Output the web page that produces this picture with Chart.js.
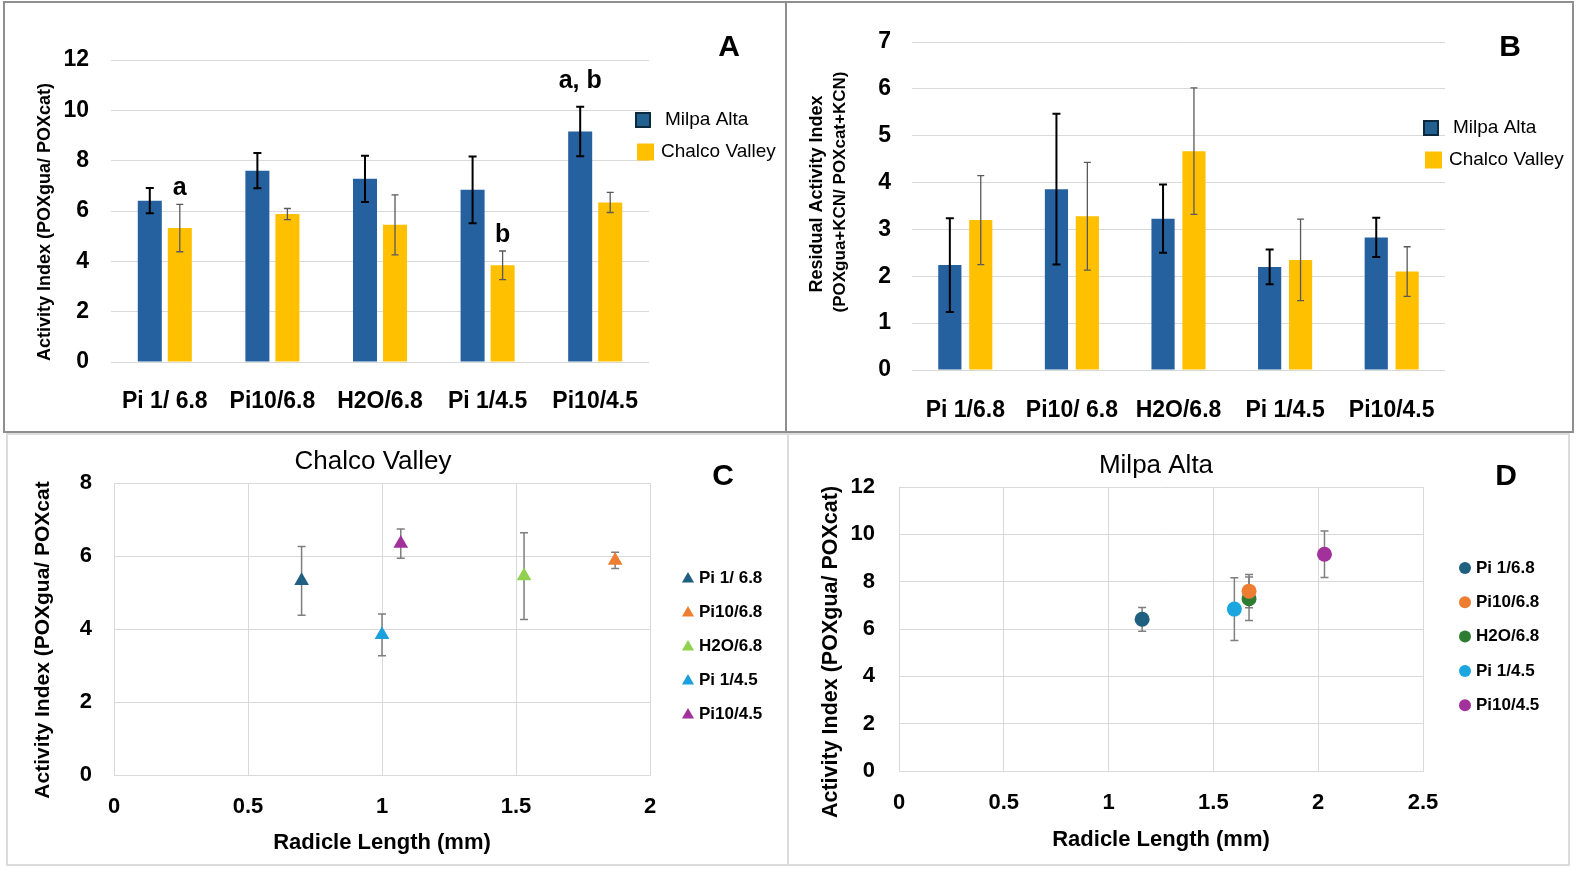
<!DOCTYPE html>
<html>
<head>
<meta charset="utf-8">
<title>Activity index panels</title>
<script src="https://cdn.jsdelivr.net/npm/chart.js@4.4.1/dist/chart.umd.min.js"></script>
<style>
  body { margin: 0; background: #fff; width: 1579px; height: 869px; position: relative; overflow: hidden; }
  .frame { position: absolute; box-sizing: border-box; }
  canvas { position: absolute; }
</style>
</head>
<body>
<div class="frame" style="left:3px;top:1px;width:1571px;height:432px;border:2px solid #8f8f8f;"></div>
<div class="frame" style="left:785px;top:1px;width:2px;height:432px;background:#8f8f8f;"></div>
<div class="frame" style="left:6px;top:433px;width:783px;height:433px;border:2px solid #dcdcdc;"></div>
<div class="frame" style="left:787px;top:433px;width:783px;height:433px;border:2px solid #dcdcdc;"></div>

<canvas id="chartA" width="780" height="429" style="left:5px;top:3px"></canvas>
<canvas id="chartB" width="782" height="429" style="left:788px;top:3px"></canvas>
<canvas id="chartC" width="780" height="428" style="left:6px;top:434px"></canvas>
<canvas id="chartD" width="776" height="428" style="left:789px;top:434px"></canvas>

<script>
// categories and series
const categoriesA = ['Pi 1/ 6.8', 'Pi10/6.8', 'H2O/6.8', 'Pi 1/4.5', 'Pi10/4.5'];
const categoriesB = ['Pi 1/6.8', 'Pi10/ 6.8', 'H2O/6.8', 'Pi 1/4.5', 'Pi10/4.5'];
const seriesNames = ['Milpa Alta', 'Chalco Valley'];

// panel A: activity index (mean and error)
const milpaActivity = [6.41, 7.60, 7.28, 6.84, 9.16];
const milpaActivityErr = [0.50, 0.70, 0.92, 1.33, 0.98];
const chalcoActivity = [5.32, 5.88, 5.45, 3.84, 6.34];
const chalcoActivityErr = [0.94, 0.22, 1.19, 0.57, 0.40];
const lettersMilpa = ['', '', '', '', 'a, b'];
const lettersChalco = ['a', '', '', 'b', ''];

// panel B: residual activity index
const milpaResidual = [2.24, 3.86, 3.23, 2.20, 2.83];
const milpaResidualErr = [1.00, 1.61, 0.73, 0.37, 0.42];
const chalcoResidual = [3.20, 3.28, 4.67, 2.35, 2.10];
const chalcoResidualErr = [0.95, 1.15, 1.35, 0.87, 0.53];

// panels C and D: radicle length vs activity
const treatmentsC = ['Pi 1/ 6.8', 'Pi10/6.8', 'H2O/6.8', 'Pi 1/4.5', 'Pi10/4.5'];
const treatmentsD = ['Pi 1/6.8', 'Pi10/6.8', 'H2O/6.8', 'Pi 1/4.5', 'Pi10/4.5'];
const chalcoLength = [0.70, 1.87, 1.53, 1.00, 1.07];
const milpaLength = [1.16, 1.67, 1.67, 1.60, 2.03];

// tick labels
const ticksA = [0, 2, 4, 6, 8, 10, 12];
const ticksB = [0, 1, 2, 3, 4, 5, 6, 7];
const ticksCy = [0, 2, 4, 6, 8];
const ticksCx = [0, 0.5, 1, 1.5, 2];
const ticksDy = [0, 2, 4, 6, 8, 10, 12];
const ticksDx = [0, 0.5, 1, 1.5, 2, 2.5];

const BLUE = '#25609f';
const YELLOW = '#ffc000';
const colorsC = ['#1f5f82', '#ed7d31', '#92d050', '#1aa0dc', '#a3319b'];
const colorsD = ['#1f5f7f', '#ed7d31', '#2e7d32', '#1ba6e0', '#a3319b'];

const FAMILY = "'Liberation Sans', Arial, sans-serif";
Chart.defaults.font.family = FAMILY;
Chart.defaults.color = '#000';

// error bars (and the significance letters) drawn from the library scales
function drawErrors(chart, opts) {
    const ctx = chart.ctx;
    const yScale = chart.scales.y;
    ctx.save();
    opts.sets.forEach(s => {
        const meta = chart.getDatasetMeta(s.dataset);
        const values = chart.data.datasets[s.dataset].data;
        meta.data.forEach((el, i) => {
            const v = typeof values[i] === 'object' ? values[i].y : values[i];
            const e = s.err[i];
            const top = yScale.getPixelForValue(v + e);
            const bot = yScale.getPixelForValue(v - e);
            ctx.strokeStyle = s.color;
            ctx.lineWidth = s.width;
            ctx.beginPath();
            ctx.moveTo(el.x, top); ctx.lineTo(el.x, bot);
            ctx.moveTo(el.x - s.cap, top); ctx.lineTo(el.x + s.cap, top);
            ctx.moveTo(el.x - s.cap, bot); ctx.lineTo(el.x + s.cap, bot);
            ctx.stroke();
            if (s.letters && s.letters[i]) {
                ctx.fillStyle = '#000';
                ctx.font = 'bold 25px ' + FAMILY;
                ctx.textAlign = 'center';
                ctx.textBaseline = 'alphabetic';
                ctx.fillText(s.letters[i], el.x, top - s.letterGap);
            }
        });
    });
    ctx.restore();
}

const errorBars = {
    id: 'errorBars',
    beforeDatasetsDraw(chart, args, opts) { if (opts.layer === 'before') drawErrors(chart, opts); },
    afterDatasetsDraw(chart, args, opts) { if (opts.layer !== 'before') drawErrors(chart, opts); }
};

// panel letters, titles, axis titles and legends
const decor = {
    id: 'decor',
    afterDraw(chart, args, opts) {
        const ctx = chart.ctx;
        ctx.save();
        (opts.texts || []).forEach(t => {
            ctx.save();
            ctx.font = t.font;
            ctx.fillStyle = '#000';
            ctx.textAlign = 'center';
            ctx.textBaseline = 'middle';
            ctx.translate(t.x, t.y);
            if (t.rot) ctx.rotate(t.rot * Math.PI / 180);
            ctx.fillText(t.text, 0, 0);
            ctx.restore();
        });
        const lg = opts.legend;
        if (lg) {
            chart.data.datasets.forEach((ds, i) => {
                const y = lg.y + i * lg.gap;
                if (lg.swatches) {
                    const sw = lg.swatches[i];
                    ctx.fillStyle = sw.fill;
                    ctx.fillRect(lg.x + sw.dx, y - sw.size / 2, sw.size, sw.size);
                    if (sw.stroke) {
                        ctx.strokeStyle = sw.stroke;
                        ctx.lineWidth = 2;
                        ctx.strokeRect(lg.x + sw.dx, y - sw.size / 2, sw.size, sw.size);
                    }
                } else {
                    ctx.fillStyle = ds.backgroundColor;
                    Chart.helpers.drawPoint(ctx, { pointStyle: ds.pointStyle, radius: lg.radius, rotation: 0, borderWidth: 0 }, lg.x, y + (lg.markerDy || 0));
                }
                ctx.fillStyle = '#000';
                ctx.font = lg.font;
                ctx.textAlign = 'left';
                ctx.textBaseline = 'middle';
                const dx = Array.isArray(lg.textDx) ? lg.textDx[i] : lg.textDx;
                ctx.fillText(ds.label, lg.x + dx, y);
            });
        }
        ctx.restore();
    }
};

function tickList(list) {
    return scale => { scale.ticks = list.map(v => ({ value: v })); };
}

function barChart(id, labels, milpa, chalco, milpaErr, chalcoErr, ticks, yMax, geom, extra) {
    return new Chart(document.getElementById(id), {
        type: 'bar',
        data: {
            labels: labels,
            datasets: [
                { label: seriesNames[0], data: milpa, backgroundColor: BLUE, categoryPercentage: geom.cp, barPercentage: geom.bp },
                { label: seriesNames[1], data: chalco, backgroundColor: YELLOW, categoryPercentage: geom.cp, barPercentage: geom.bp }
            ]
        },
        options: {
            responsive: false,
            animation: false,
            layout: { padding: { left: 0, top: geom.top, right: geom.right, bottom: 0 } },
            plugins: {
                legend: { display: false },
                tooltip: { enabled: false },
                errorBars: {
                    layer: 'after',
                    sets: [
                        { dataset: 0, err: milpaErr, color: '#000', width: 2, cap: 4, letters: extra.lettersMilpa, letterGap: 19 },
                        { dataset: 1, err: chalcoErr, color: '#595959', width: 1.3, cap: 3.5, letters: extra.lettersChalco, letterGap: 9 }
                    ]
                },
                decor: {
                    texts: [{ text: extra.panel, x: geom.letterX, y: 45, font: 'bold 30px ' + FAMILY }].concat(extra.axisTitles),
                    legend: {
                        x: geom.legendX, y: geom.legendY, gap: geom.legendGap,
                        font: '19px ' + FAMILY,
                        textDx: [29, 25],
                        swatches: [
                            { fill: '#22618f', stroke: '#0c2a3f', size: 14, dx: 0 },
                            { fill: YELLOW, size: 17, dx: 1 }
                        ]
                    }
                }
            },
            scales: {
                x: {
                    grid: { display: false },
                    border: { display: false },
                    ticks: { font: { size: 23, weight: 'bold' }, padding: geom.xPad },
                    afterFit: s => { s.height = geom.xH; }
                },
                y: {
                    min: 0, max: yMax,
                    afterBuildTicks: tickList(ticks),
                    grid: { color: '#d9d9d9', drawTicks: false },
                    border: { display: false },
                    ticks: { font: { size: 23, weight: 'bold' }, padding: geom.yPad, callback: v => String(v) },
                    afterFit: s => { s.width = geom.yW; }
                }
            }
        },
        plugins: [errorBars, decor]
    });
}

barChart('chartA', categoriesA, milpaActivity, chalcoActivity, milpaActivityErr, chalcoActivityErr, ticksA, 12,
    { cp: 0.558, bp: 0.8, top: 57, right: 136, xH: 70, xPad: 18, yW: 106, yPad: 22,
      letterX: 724, legendX: 631, legendY: 117, legendGap: 32 },
    { panel: 'A', lettersMilpa: lettersMilpa, lettersChalco: lettersChalco,
      axisTitles: [{ text: 'Activity Index (POXgua/ POXcat)', x: 40, y: 219, rot: -90, font: 'bold 18px ' + FAMILY }] });

barChart('chartB', categoriesB, milpaResidual, chalcoResidual, milpaResidualErr, chalcoResidualErr, ticksB, 7,
    { cp: 0.58, bp: 0.75, top: 39, right: 125, xH: 62, xPad: 19, yW: 124, yPad: 21,
      letterX: 722, legendX: 636, legendY: 125, legendGap: 32 },
    { panel: 'B',
      axisTitles: [
        { text: 'Residual Activity Index', x: 29, y: 191, rot: -90, font: 'bold 18px ' + FAMILY },
        { text: '(POXgua+KCN/ POXcat+KCN)', x: 52, y: 189, rot: -90, font: 'bold 17px ' + FAMILY }
      ] });

function scatterChart(id, names, xs, ys, errs, colors, style, radius, xMax, yMax, ticksX, ticksY, geom, texts) {
    return new Chart(document.getElementById(id), {
        type: 'scatter',
        data: {
            datasets: names.map((n, i) => ({
                label: n,
                data: [{ x: xs[i], y: ys[i] }],
                backgroundColor: colors[i],
                borderColor: colors[i],
                pointStyle: style,
                pointRadius: radius,
                pointBorderWidth: 0
            }))
        },
        options: {
            responsive: false,
            animation: false,
            layout: { padding: { left: 0, top: geom.top, right: geom.right, bottom: 0 } },
            plugins: {
                legend: { display: false },
                tooltip: { enabled: false },
                errorBars: {
                    layer: 'before',
                    sets: names.map((n, i) => ({ dataset: i, err: [errs[i]], color: '#7f7f7f', width: 1.5, cap: 4 }))
                },
                decor: {
                    texts: texts,
                    legend: {
                        x: geom.legendX, y: geom.legendY, gap: geom.legendGap, radius: geom.legendR, markerDy: geom.markerDy,
                        font: 'bold 17px ' + FAMILY,
                        textDx: 11
                    }
                }
            },
            scales: {
                x: {
                    type: 'linear', min: 0, max: xMax,
                    afterBuildTicks: tickList(ticksX),
                    grid: { color: '#d9d9d9', drawTicks: false },
                    border: { color: '#d9d9d9' },
                    ticks: { font: { size: 22, weight: 'bold' }, padding: geom.xPad, callback: v => String(v) },
                    title: { display: true, text: 'Radicle Length (mm)', font: { size: 22, weight: 'bold' }, padding: { top: 0, bottom: geom.xTitlePad } },
                    afterFit: s => { s.height = geom.xH; }
                },
                y: {
                    min: 0, max: yMax,
                    afterBuildTicks: tickList(ticksY),
                    grid: { color: '#d9d9d9', drawTicks: false },
                    border: { color: '#d9d9d9' },
                    ticks: { font: { size: 22, weight: 'bold' }, padding: geom.yPad, callback: v => String(v) },
                    afterFit: s => { s.width = geom.yW; }
                }
            }
        },
        plugins: [errorBars, decor]
    });
}

scatterChart('chartC', treatmentsC, chalcoLength, chalcoActivity, chalcoActivityErr, colorsC, 'triangle', 8.5, 2, 8, ticksCx, ticksCy,
    { top: 49, right: 136, xH: 87, xPad: 19, xTitlePad: 6, yW: 108, yPad: 22,
      legendX: 682, legendY: 144, legendGap: 34, legendR: 7, markerDy: 1 },
    [{ text: 'Chalco Valley', x: 367, y: 28, font: '26px ' + FAMILY },
     { text: 'C', x: 717, y: 43, font: 'bold 30px ' + FAMILY },
     { text: 'Activity Index (POXgua/ POXcat', x: 37, y: 206, rot: -90, font: 'bold 21px ' + FAMILY }]);

scatterChart('chartD', treatmentsD, milpaLength, milpaActivity, milpaActivityErr, colorsD, 'circle', 7.5, 2.5, 12, ticksDx, ticksDy,
    { top: 53, right: 142, xH: 91, xPad: 19, xTitlePad: 9, yW: 110, yPad: 24,
      legendX: 676, legendY: 134, legendGap: 34.3, legendR: 6, markerDy: 0 },
    [{ text: 'Milpa Alta', x: 367, y: 32, font: '26px ' + FAMILY },
     { text: 'D', x: 717, y: 43, font: 'bold 30px ' + FAMILY },
     { text: 'Activity Index (POXgua/ POXcat)', x: 42, y: 218, rot: -90, font: 'bold 21.5px ' + FAMILY }]);
</script>
</body>
</html>
